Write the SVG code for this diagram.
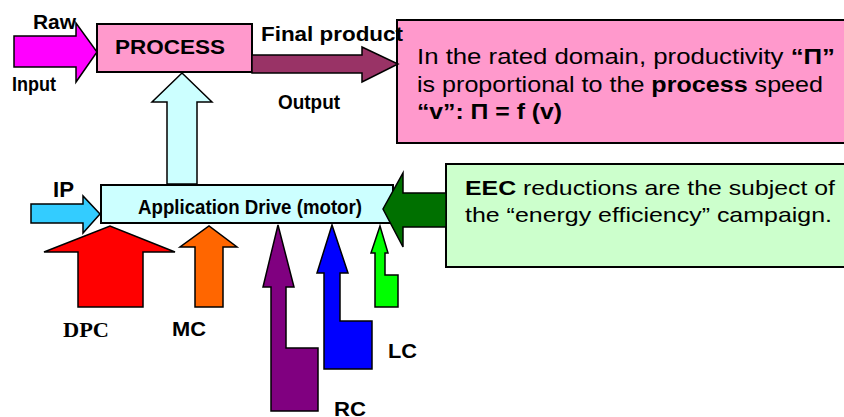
<svg xmlns="http://www.w3.org/2000/svg" width="844" height="417" viewBox="0 0 844 417">
<style>
.box{stroke:#000;stroke-width:2}
.arr{stroke:#000;stroke-width:1.5;stroke-linejoin:miter}
.lb{font-family:"Liberation Sans",Arial,sans-serif;font-weight:bold;fill:#000}
.ser{font-family:"Liberation Serif","Times New Roman",serif;font-weight:bold;fill:#000}
.tx{font-family:"Liberation Sans",Arial,sans-serif;fill:#000}
.b{font-weight:bold}
</style>
<rect width="844" height="417" fill="#fff"/>
<g id="process">
<rect class="box" x="97" y="24" width="155" height="48" fill="#FF99CC"/>
<text class="lb" x="115" y="54" font-size="21" textLength="110" lengthAdjust="spacingAndGlyphs">PROCESS</text>
</g>
<g id="app-drive">
<rect class="box" x="101" y="185" width="292" height="38" fill="#CCFFFF"/>
<text class="lb" x="138" y="214" font-size="20" textLength="224" lengthAdjust="spacingAndGlyphs">Application Drive (motor)</text>
</g>
<g id="note-productivity">
<rect class="box" x="397" y="20" width="452" height="123" fill="#FF99CC"/>
<text class="tx" x="417" y="64" font-size="22" textLength="418" lengthAdjust="spacingAndGlyphs">In the rated domain, productivity <tspan class="b">“Π”</tspan></text>
<text class="tx" x="417" y="92" font-size="22" textLength="406" lengthAdjust="spacingAndGlyphs">is proportional to the <tspan class="b">process</tspan> speed</text>
<text class="tx b" x="417" y="119" font-size="22" textLength="145" lengthAdjust="spacingAndGlyphs">“v”: Π = f (v)</text>
</g>
<g id="note-eec">
<rect class="box" x="446" y="164" width="402" height="103" fill="#CCFFCC"/>
<text class="tx" x="465" y="195" font-size="21" textLength="370" lengthAdjust="spacingAndGlyphs"><tspan class="b">EEC</tspan> reductions are the subject of</text>
<text class="tx" x="465" y="222" font-size="21" textLength="367" lengthAdjust="spacingAndGlyphs">the “energy efficiency” campaign.</text>
</g>
<g id="connectors">
<polygon id="raw-input" class="arr" fill="#FF00FF" points="14,36 76,36 76,23 97,52 76,82 76,67 14,67"/>
<polygon id="output" class="arr" fill="#993366" points="252,55 362,55 362,47 398,64 362,82 362,73 252,73"/>
<polygon id="drive-to-process" class="arr" fill="#CCFFFF" points="167,184 167,102 152,102 182,73 212,102 197,102 197,184"/>
<polygon id="ip" class="arr" fill="#33CCFF" points="31,204 83,204 83,196 100,214 83,233 83,223 31,223"/>
<polygon id="dpc" class="arr" fill="#FF0000" points="78,307 78,252 44,252 110,226 175,252 143,252 143,307"/>
<polygon id="mc" class="arr" fill="#FF6600" points="195,307 195,247 180,247 209,226 237,247 223,247 223,307"/>
<polygon id="rc-purple" class="arr" fill="#800080" points="271,411 271,287 263,287 278,225 294,287 286,287 286,348 318,348 318,411"/>
<polygon id="rc-blue" class="arr" fill="#0000FF" points="324,369 324,273 317,273 332,225 348,273 340,273 340,321 372,321 372,369"/>
<polygon id="lc" class="arr" fill="#00FF00" points="375,307 375,253 371,253 380,226 388,253 385,253 385,275 398,275 398,307"/>
<polygon id="eec" class="arr" fill="#007000" points="446,193 403,193 403,173 383,209 403,247 403,227 446,227"/>
</g>
<g id="labels">
<text class="lb" x="33" y="29" font-size="20" textLength="43" lengthAdjust="spacingAndGlyphs">Raw</text>
<text class="lb" x="12" y="91" font-size="21" textLength="44" lengthAdjust="spacingAndGlyphs">Input</text>
<text class="lb" x="261" y="41" font-size="20" textLength="142" lengthAdjust="spacingAndGlyphs">Final product</text>
<text class="lb" x="278" y="109" font-size="20" textLength="62" lengthAdjust="spacingAndGlyphs">Output</text>
<text class="lb" x="53" y="197" font-size="22" textLength="21" lengthAdjust="spacingAndGlyphs">IP</text>
<text class="ser" x="63" y="337" font-size="21" textLength="46" lengthAdjust="spacingAndGlyphs">DPC</text>
<text class="lb" x="172" y="336" font-size="20" textLength="34" lengthAdjust="spacingAndGlyphs">MC</text>
<text class="lb" x="388" y="358" font-size="21" textLength="29" lengthAdjust="spacingAndGlyphs">LC</text>
<text class="lb" x="334" y="416" font-size="21" textLength="32" lengthAdjust="spacingAndGlyphs">RC</text>
</g>
</svg>
